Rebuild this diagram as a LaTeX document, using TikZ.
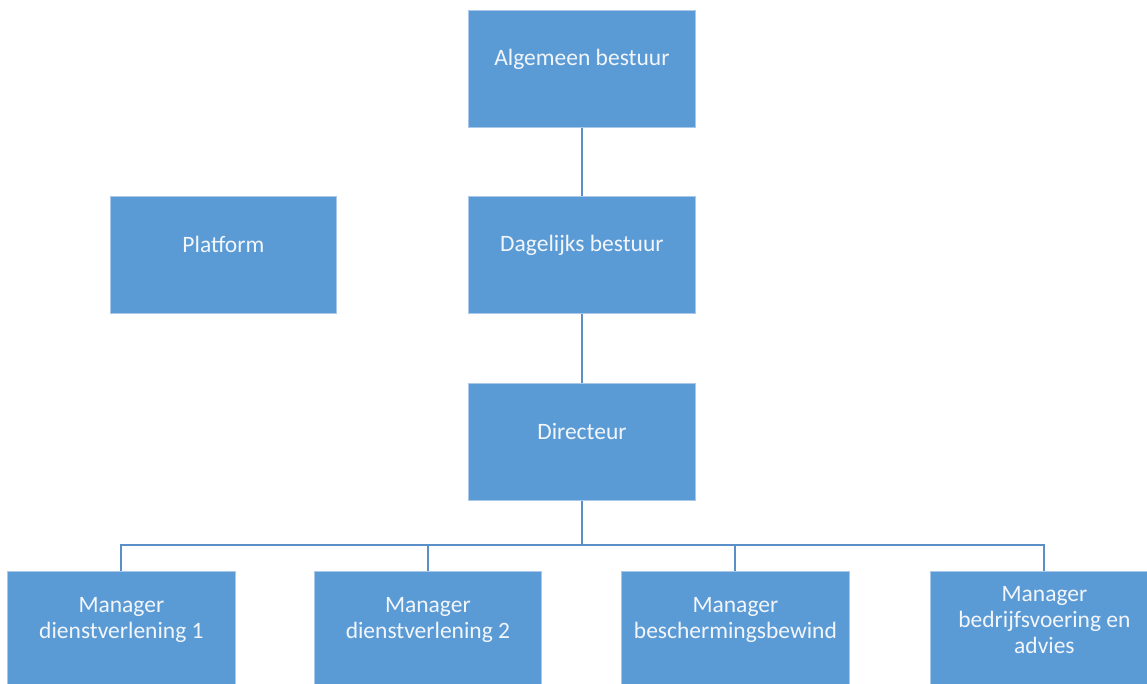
\documentclass[tikz,border=0pt]{standalone}
\usepackage{fontspec}
\setmainfont{Carlito}
\definecolor{boxfill}{HTML}{5B9BD5}
\definecolor{boxedge}{HTML}{A9C8EA}
\definecolor{linkcol}{HTML}{5A8FC8}
\definecolor{txtcol}{HTML}{F2F6FB}
\tikzset{
  orgbox/.style={draw=boxedge, line width=0.8pt, fill=boxfill, minimum width=227pt, minimum height=117pt, inner sep=0pt, anchor=north west},
  orgtxt/.style={text=txtcol, align=center, font=\fontsize{23.5}{26}\selectfont, inner sep=0pt, yshift=10pt},
  link/.style={draw=linkcol, line width=2pt}
}
\begin{document}
\begin{tikzpicture}[x=1pt,y=-1pt]
\useasboundingbox (0,0) rectangle (1147,684);
\node[orgbox, label={[orgtxt]center:Algemeen bestuur}] (alg) at (468,10) {};
\node[orgbox, label={[orgtxt]center:Dagelijks bestuur}] (dag) at (468,196) {};
\node[orgbox, minimum width=226pt, label={[orgtxt]center:Platform}] (plat) at (110,196) {};
\node[orgbox, label={[orgtxt]center:Directeur}] (dir) at (468,383) {};
\node[orgbox, minimum width=228pt, label={[orgtxt]center:Manager\\dienstverlening 1}] (m1) at (7,571) {};
\node[orgbox, label={[orgtxt]center:Manager\\dienstverlening 2}] (m2) at (314,571) {};
\node[orgbox, minimum width=228pt, label={[orgtxt]center:Manager\\beschermingsbewind}] (m3) at (621,571) {};
\node[orgbox, minimum width=228pt, label={[orgtxt]center:Manager\\bedrijfsvoering en\\advies}] (m4) at (930,571) {};
\coordinate (busy) at (0,545);
\coordinate (bus) at (dir.south |- busy);
\draw[link] (alg.south) -- (dag.north);
\draw[link] (dag.south) -- (dir.north);
\draw[link] (dir.south) -- (bus);
\draw[link] (m1.north) |- (bus);
\draw[link] (m2.north) |- (bus);
\draw[link] (m3.north) |- (bus);
\draw[link] (m4.north) |- (bus);
\end{tikzpicture}
\end{document}
